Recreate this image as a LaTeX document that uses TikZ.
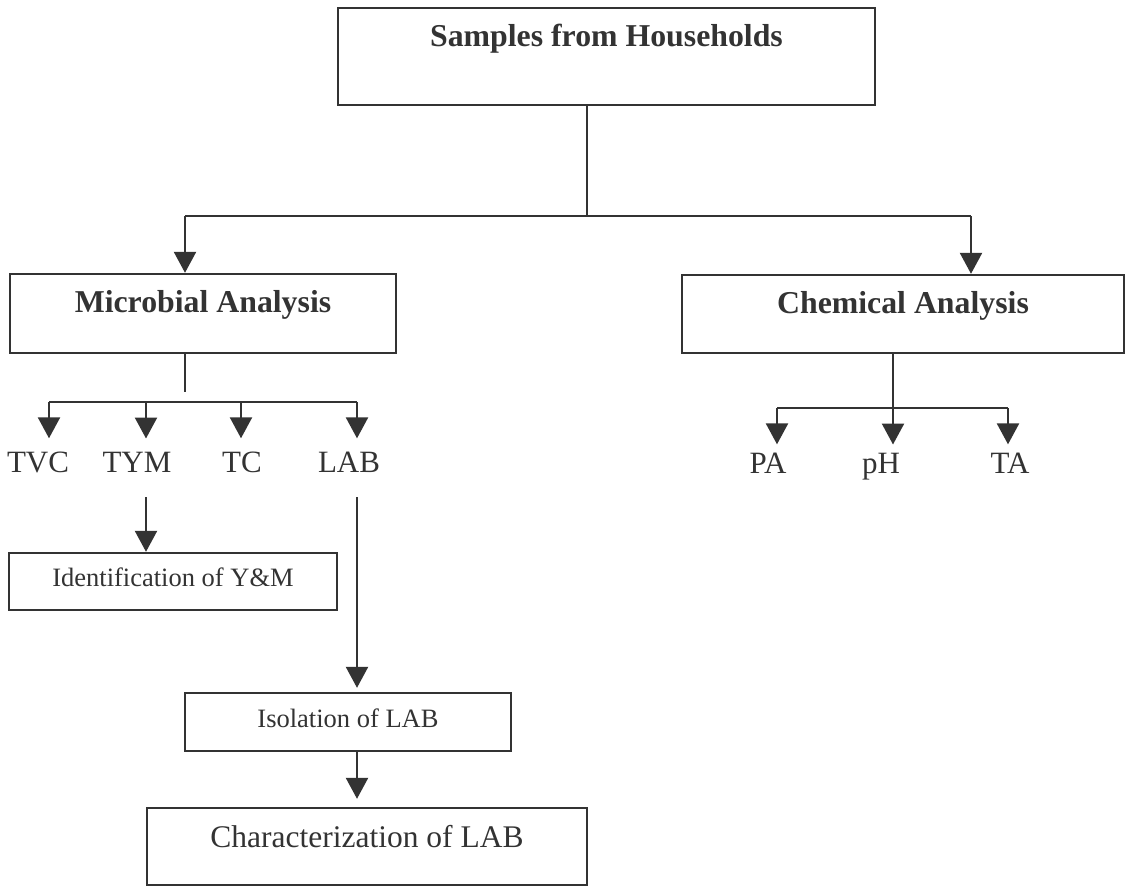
\documentclass[tikz,border=0pt]{standalone}
\usepackage{fontspec}
\setmainfont{Liberation Serif}
\usetikzlibrary{arrows.meta}
\definecolor{ink}{HTML}{333333}
\tikzset{
  frame/.style={draw=ink, line width=2.4pt, rectangle, inner sep=0pt},
  link/.style={draw=ink, line width=2.4pt},
  arr/.style={link, -{Triangle[width=22pt,length=21pt]}},
  head/.style={font=\bfseries\fontsize{31.8}{36}\selectfont, text=ink, anchor=base, inner sep=0pt},
  leaf/.style={font=\fontsize{31}{36}\selectfont, text=ink, anchor=base, inner sep=0pt},
  minor/.style={font=\fontsize{26.5}{30}\selectfont, text=ink, anchor=base, inner sep=0pt},
}
\begin{document}
\begin{tikzpicture}[x=1pt, y=-1pt]
  \useasboundingbox[fill=white] (0,0) rectangle (1127,887);

  % boxes
  \node[frame, minimum width=537pt, minimum height=97pt] (top)    at (606.5,56.5) {};
  \node[frame, minimum width=386pt, minimum height=79pt] (micro)  at (203,313.5) {};
  \node[frame, minimum width=442pt, minimum height=78pt] (chem)   at (903,314) {};
  \node[frame, minimum width=328pt, minimum height=57pt] (ident)  at (173,581.5) {};
  \node[frame, minimum width=326pt, minimum height=58pt] (iso)    at (348,722) {};
  \node[frame, minimum width=440pt, minimum height=77pt] (charac) at (367,846.5) {};

  % box captions
  \node[head]  (topT)    at (606.5,46) {Samples from Households};
  \node[head]  (microT)  at (203,312)  {Microbial Analysis};
  \node[head]  (chemT)   at (903,313)  {Chemical Analysis};
  \node[minor] (identT)  at (173,586)  {Identification of Y\&M};
  \node[minor] (isoT)    at (348,727)  {Isolation of LAB};
  \node[leaf, font=\fontsize{31.5}{36}\selectfont] (characT) at (367,847) {Characterization of LAB};

  % leaf labels
  \node[leaf] (tvc) at (38,472)   {TVC};
  \node[leaf] (tym) at (137,472)  {TYM};
  \node[leaf] (tc)  at (242,472)  {TC};
  \node[leaf] (lab) at (349,472)  {LAB};
  \node[leaf] (pa)  at (768,473)  {PA};
  \node[leaf] (ph)  at (881,473)  {pH};
  \node[leaf] (ta)  at (1010,473) {TA};

  % split below the top box
  \coordinate (topStem) at (587,216);
  \coordinate (busL) at (185,216);
  \coordinate (busR) at (971,216);
  \draw[link] (top.south -| topStem) -- (topStem);
  \draw[link] (busL) -- (busR);
  \draw[arr] (busL) -- (micro.north -| busL);
  \draw[arr] (busR) -- (chem.north -| busR);

  % microbial branch
  \coordinate (mStem) at (185,392);
  \coordinate (mb1) at (49,402);
  \coordinate (mb2) at (146,402);
  \coordinate (mb3) at (241,402);
  \coordinate (mb4) at (357,402);
  \draw[link] (micro.south -| mStem) -- (mStem);
  \draw[link] (mb1) -- (mb4);
  \draw[arr, shorten >=13pt] (mb1) -- (mb1 |- tvc.north);
  \draw[arr, shorten >=13pt] (mb2) -- (mb2 |- tym.north);
  \draw[arr, shorten >=13pt] (mb3) -- (mb3 |- tc.north);
  \draw[arr, shorten >=13pt] (mb4) -- (mb4 |- lab.north);

  % follow-up steps
  \draw[arr, shorten <=25pt] (mb2 |- tym.south) -- (mb2 |- ident.north);
  \draw[arr, shorten <=25pt, shorten >=4pt] (mb4 |- lab.south) -- (mb4 |- iso.north);
  \draw[arr, shorten >=8pt] (iso.south -| mb4) -- (mb4 |- charac.north);

  % chemical branch
  \coordinate (cb1) at (777,408);
  \coordinate (cb2) at (893,408);
  \coordinate (cb3) at (1008,408);
  \draw[link] (cb1) -- (cb3);
  \draw[arr, shorten >=8pt] (chem.south -| cb2) -- (cb2 |- ph.north);
  \draw[arr, shorten >=8pt] (cb1) -- (cb1 |- pa.north);
  \draw[arr, shorten >=8pt] (cb3) -- (cb3 |- ta.north);
\end{tikzpicture}
\end{document}
